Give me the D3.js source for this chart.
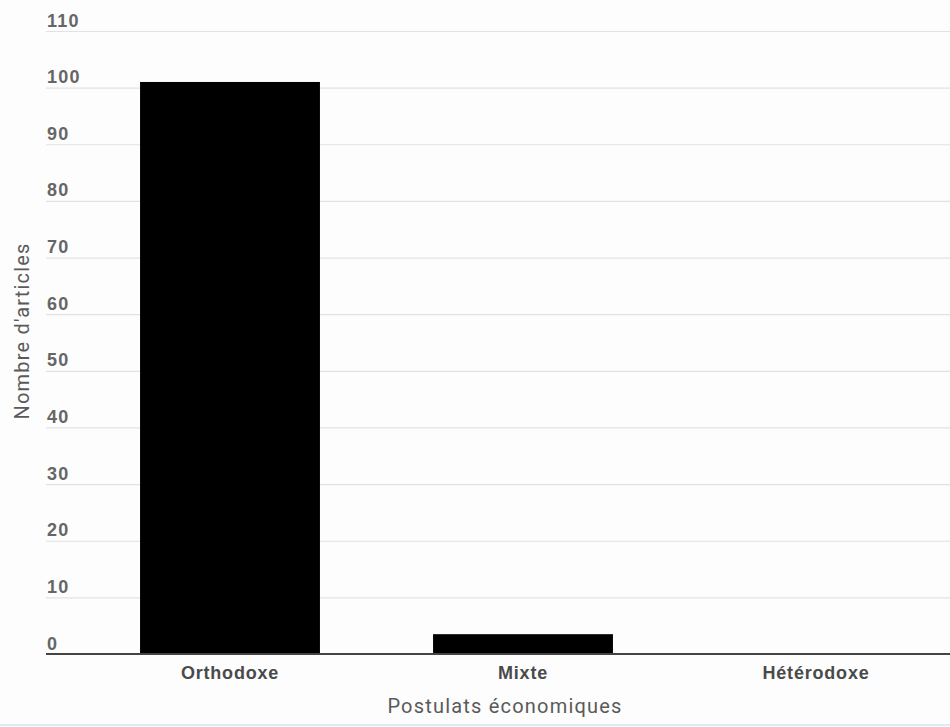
<!DOCTYPE html>
<html>
<head>
<meta charset="utf-8">
<script src="https://cdn.jsdelivr.net/npm/d3@7"></script>
<style>
  html, body { margin: 0; padding: 0; background: #fdfdfd; }
  svg { display: block; font-family: Roboto, "Noto Sans", sans-serif; }
</style>
</head>
<body>
<svg id="chart" width="950" height="727"></svg>
<script>
// Articles per economic assumption
const categories = ["Orthodoxe", "Mixte", "Hétérodoxe"];
const values = [101, 3.5, 0];
const yTicks = [0, 10, 20, 30, 40, 50, 60, 70, 80, 90, 100, 110];
const xTitle = "Postulats économiques";
const yTitle = "Nombre d'articles";

const svg = d3.select("#chart");
const W = 950, H = 727;
const plot = { left: 46, right: 950, top: 31, bottom: 654 };

const y = d3.scaleLinear().domain([0, 110]).range([plot.bottom, plot.top]);
const x = d3.scaleBand().domain(categories)
  .range([83.5, 962.5]).paddingInner(0.386).paddingOuter(0.193);

// Horizontal gridlines with labels sitting above each line
const yAxis = d3.axisLeft(y).tickValues(yTicks).tickSize(0).tickFormat(d3.format("d"));
const gy = svg.append("g").attr("transform", `translate(${plot.left},0)`).call(yAxis);
gy.select(".domain").remove();
gy.selectAll(".tick line").remove();
gy.selectAll(".tick").append("line")
  .attr("x1", 0).attr("x2", plot.right - plot.left)
  .attr("stroke", "#e2e2e2").attr("stroke-width", 1.2);
gy.selectAll(".tick text")
  .attr("x", 1).attr("dy", -5)
  .attr("text-anchor", "start")
  .attr("fill", "#666").attr("font-size", 18).attr("font-weight", "bold")
  .attr("letter-spacing", 1.2);

// Bars
svg.append("g").selectAll("rect").data(categories).join("rect")
  .attr("x", d => x(d))
  .attr("width", x.bandwidth())
  .attr("y", (d, i) => y(values[i]))
  .attr("height", (d, i) => y(0) - y(values[i]))
  .attr("fill", "#000");

// Baseline and category labels
const xAxis = d3.axisBottom(x).tickSize(0).tickPadding(12);
const gx = svg.append("g").attr("transform", `translate(0,${plot.bottom})`).call(xAxis);
gx.select(".domain").remove();
gx.selectAll(".tick text")
  .attr("fill", "#4a4a4a").attr("font-size", 18).attr("font-weight", "bold")
  .attr("letter-spacing", 0.8);
svg.append("line")
  .attr("x1", plot.left).attr("x2", plot.right)
  .attr("y1", y(0)).attr("y2", y(0))
  .attr("stroke", "#444").attr("stroke-width", 2);

// Axis titles
svg.append("text")
  .attr("x", 505).attr("y", 713)
  .attr("text-anchor", "middle")
  .attr("fill", "#5a5a5a").attr("font-size", 20)
  .attr("letter-spacing", 1.2)
  .text(xTitle);
svg.append("text")
  .attr("transform", "translate(29,331) rotate(-90)")
  .attr("text-anchor", "middle")
  .attr("fill", "#5a5a5a").attr("font-size", 20)
  .attr("letter-spacing", 1.2)
  .text(yTitle);

// Thin rule along the bottom edge
svg.append("line")
  .attr("x1", 0).attr("x2", W).attr("y1", 725).attr("y2", 725)
  .attr("stroke", "#d9edf2").attr("stroke-width", 2);
</script>
</body>
</html>
